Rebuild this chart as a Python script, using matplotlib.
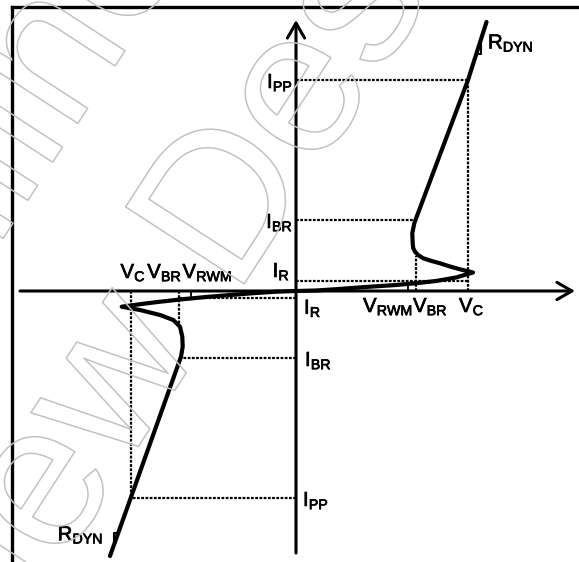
import matplotlib
matplotlib.use("Agg")
import matplotlib.pyplot as plt
import matplotlib.patheffects as pe
import numpy as np

plt.rcParams['font.family'] = ['Liberation Sans', 'DejaVu Sans']
plt.rcParams['mathtext.fontset'] = 'custom'
plt.rcParams['mathtext.rm'] = 'Liberation Sans'

# ---------------- data (schematic units: V horizontal, I vertical) ----------------
# first-quadrant I-V characteristic (forward branch, snap-back, then R_DYN slope)
pos_v = [0, 2, 4, 6, 8, 10, 12, 14, 16, 17.7,
         16.4, 15.4, 14.4, 13.5, 12.73, 12.2, 11.9, 11.72, 11.67, 11.63, 11.83, 12.07,
         17.2, 19.05]
pos_i = [0, 0.05, 0.18, 0.33, 0.47, 0.6, 0.78, 1.0, 1.35, 1.85,
         2.17, 2.45, 2.77, 3.02, 3.27, 3.6, 3.93, 4.3, 4.77, 5.77, 6.77, 7.43,
         21.1, 26.9]
# third-quadrant I-V characteristic
neg_v = [0, -2, -4, -6.3, -9, -11.6, -14, -15.6, -17.43,
         -15.6, -13.6, -12.27, -11.6, -11.37, -11.33, -11.5,
         -16.53, -18.6]
neg_i = [0, -0.07, -0.2, -0.38, -0.6, -0.85, -1.12, -1.32, -1.57,
         -1.9, -2.4, -2.9, -3.57, -4.57, -5.57, -6.57,
         -20.7, -26.5]

# characteristic levels
V_RWM, V_BR, V_C = 11.2, 12.0, 17.2
I_R, I_BR, I_PP = 1.0, 7.1, 21.1
V_RWM_N, V_BR_N, V_C_N = -10.55, -11.7, -16.55
I_R_N, I_BR_N, I_PP_N = -0.73, -6.7, -20.7
VBR_TOP, VBR_TOP_N = 3.5, -3.6          # where V_BR guides meet the curve
IBR_END_N, IR_END_N = -11.4, -11.6      # where left guides meet the curve

# R_DYN slope triangles
rdyn_pos_v = [18.05, 18.5, 18.5]
rdyn_pos_i = [23.75, 23.75, 25.18]
rdyn_neg_v = [-17.79, -18.17, -18.17]
rdyn_neg_i = [-24.23, -24.23, -25.3]

# ---------------- figure ----------------
W, H = 579, 562
fig = plt.figure(figsize=(W / 100, H / 100), dpi=100)
ax = fig.add_axes([12 / W, 0, 1 - 12 / W, (H - 6.5) / H])
ax.set_xlim(-28.4, 28.3)
ax.set_ylim(-27.1, 28.45)
ax.set_xticks([])
ax.set_yticks([])
for s in ('right', 'bottom'):
    ax.spines[s].set_visible(False)
for s in ('left', 'top'):
    ax.spines[s].set_linewidth(2.4)

# watermark (outlined text)
wm_fx = dict(rotation=57, rotation_mode='anchor', va='baseline', fontsize=148,
             color='none', transform=fig.transFigure, zorder=0,
             path_effects=[pe.Stroke(linewidth=1.1, foreground='#c2c2c2')])
fig.text(235 / W, 1 - 298 / H, 'Design', ha='left', **wm_fx)
fig.text(203 / W, 1 - 347 / H, 'Preview', ha='right', **wm_fx)
fig.text(-129 / W, 1 - 442 / H, 'Online', ha='left', **wm_fx)

# axes with arrows
arrow = dict(arrowstyle='->,head_length=1.08,head_width=0.62', lw=2.2,
             color='black', shrinkA=0, shrinkB=0, mutation_scale=10)
ax.annotate('', xy=(27.9, 0), xytext=(-27.6, 0), arrowprops=arrow, zorder=3)
ax.annotate('', xy=(0, 27.1), xytext=(0, -26.2), arrowprops=arrow, zorder=3)

# dotted guide lines
guides = [
    ([0, V_C], [I_PP, I_PP]), ([V_C, V_C], [0, I_PP]),
    ([0, V_BR], [I_BR, I_BR]), ([V_BR, V_BR], [0, VBR_TOP]),
    ([0, V_C], [I_R, I_R]),
    ([0, V_C_N], [I_PP_N, I_PP_N]), ([V_C_N, V_C_N], [0, I_PP_N]),
    ([0, IBR_END_N], [I_BR_N, I_BR_N]), ([V_BR_N, V_BR_N], [0, VBR_TOP_N]),
    ([0, IR_END_N], [I_R_N, I_R_N]),
]
for gx, gy in guides:
    ax.plot(gx, gy, color='black', lw=1.6, linestyle=(0, (1.25, 0.65)),
            dash_capstyle='butt', zorder=2)

# V_RWM ticks
ax.plot([V_RWM, V_RWM], [0, np.interp(V_RWM, pos_v[:10], pos_i[:10])],
        color='black', lw=1.3, zorder=2)
ax.plot([V_RWM_N, V_RWM_N], [0, -np.interp(-V_RWM_N, [-v for v in neg_v[:9]],
                                            [-i for i in neg_i[:9]])],
        color='black', lw=1.3, zorder=2)

# I-V curves
for cv, ci in ((pos_v, pos_i), (neg_v, neg_i)):
    ax.plot(cv, ci, color='black', lw=3.0, solid_joinstyle='round',
            solid_capstyle='round', zorder=4)

# R_DYN triangles
ax.plot(rdyn_pos_v, rdyn_pos_i, color='black', lw=1.5, zorder=4)
ax.plot(rdyn_neg_v, rdyn_neg_i, color='black', lw=1.5, zorder=4)

# labels: (text, x, y, dx px, dy px, ha)
def lab(main, sub):
    return r'$\mathregular{%s_{%s}}$' % (main, sub)

labels = [
    (lab('I', 'PP'), 0, I_PP, -3, -8, 'right'),
    (lab('I', 'BR'), 0, I_BR, -3, -8, 'right'),
    (lab('I', 'R'), 0, I_R, -6, 4, 'right'),
    (lab('I', 'R'), 0, I_R_N, 8, -15.5, 'left'),
    (lab('V', 'RWM'), V_RWM, 0, 5, -21, 'right'),
    (lab('V', 'BR'), V_BR, 0, -3, -21, 'left'),
    (lab('V', 'C'), V_C, 0, -9, -21, 'left'),
    (lab('R', 'DYN'), rdyn_pos_v[1], rdyn_pos_i[1], 7, 5, 'left'),
    (lab('V', 'C'), V_C_N, 0, -10, 13, 'left'),
    (lab('V', 'BR'), V_BR_N, 0, 3, 13, 'right'),
    (lab('V', 'RWM'), V_RWM_N, 0, -8, 13, 'left'),
    (lab('I', 'BR'), 0, I_BR_N, 9, -8, 'left'),
    (lab('I', 'PP'), 0, I_PP_N, 7, -8, 'left'),
    (lab('R', 'DYN'), rdyn_neg_v[1], rdyn_neg_i[1], -11, -7, 'right'),
]
bold_fx = [pe.withStroke(linewidth=0.5, foreground='black')]
for txt, x, y, dx, dy, ha in labels:
    ax.annotate(txt, xy=(x, y), xytext=(dx, dy), textcoords='offset pixels',
                ha=ha, va='baseline', fontsize=14.6, color='black', zorder=5,
                path_effects=bold_fx)

fig.savefig('out.png', dpi=100)
